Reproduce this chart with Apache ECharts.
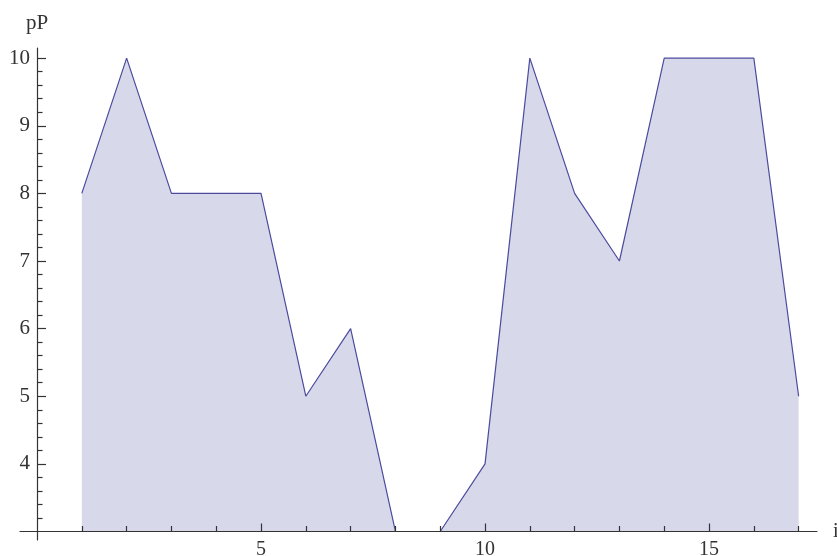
<!DOCTYPE html>
<html>
<head>
<meta charset="utf-8">
<script src="https://cdn.jsdelivr.net/npm/echarts@6/dist/echarts.min.js"></script>
<style>
html,body{margin:0;padding:0;background:#fff;}
#chart{width:837px;height:556px;}
</style>
</head>
<body>
<div id="chart"></div>
<script>
// Data
const iValues = [1, 2, 3, 4, 5, 6, 7, 8, 9, 10, 11, 12, 13, 14, 15, 16, 17];
const pPValues = [8, 10, 8, 8, 8, 5, 6, 3, 3, 4, 10, 8, 7, 10, 10, 10, 5];

// Tick labels
const xMajorTicks = [5, 10, 15];
const xMinorTicks = [1, 2, 3, 4, 6, 7, 8, 9, 11, 12, 13, 14, 16, 17];
const yMajorTicks = [4, 5, 6, 7, 8, 9, 10];
const yMinorTicks = [3.2, 3.4, 3.6, 3.8, 4.2, 4.4, 4.6, 4.8, 5.2, 5.4, 5.6, 5.8,
  6.2, 6.4, 6.6, 6.8, 7.2, 7.4, 7.6, 7.8, 8.2, 8.4, 8.6, 8.8, 9.2, 9.4, 9.6, 9.8];

const axisColor = '#333';
const labelFont = 'Liberation Serif';
const xMin = -0.38, xMax = 17.41, yMin = 2.874, yMax = 10.15, yBase = 3;

const chart = echarts.init(document.getElementById('chart'), null, {renderer: 'canvas'});

const seriesData = iValues.map((x, k) => [x, pPValues[k]]);

const baseX = {
  type: 'value', min: xMin, max: xMax, position: 'bottom', offset: -8.5,
  splitLine: {show: false}, z: 5
};
const baseY = {
  type: 'value', min: yMin, max: yMax, position: 'left',
  splitLine: {show: false}, z: 5
};

chart.setOption({
  animation: false,
  backgroundColor: '#fff',
  grid: {left: 20, right: 20, top: 48, bottom: 16, containLabel: false, outerBoundsMode: 'none'},
  xAxis: [
    Object.assign({}, baseX, {
      name: 'i',
      nameLocation: 'end',
      nameGap: 16,
      nameTextStyle: {fontFamily: labelFont, fontSize: 20, color: axisColor},
      axisLine: {show: true, onZero: false, lineStyle: {color: axisColor, width: 1.2}},
      axisTick: {show: true, inside: true, length: 8, customValues: xMajorTicks, lineStyle: {color: axisColor, width: 1.2}},
      axisLabel: {show: true, customValues: xMajorTicks, margin: 8, fontFamily: labelFont, fontSize: 20, color: axisColor}
    }),
    Object.assign({}, baseX, {
      axisLine: {show: false, onZero: false},
      axisTick: {show: true, inside: true, length: 5.5, customValues: xMinorTicks, lineStyle: {color: axisColor, width: 1.2}},
      axisLabel: {show: false}
    })
  ],
  yAxis: [
    Object.assign({}, baseY, {
      name: 'pP',
      nameLocation: 'end',
      nameGap: 14,
      nameTextStyle: {fontFamily: labelFont, fontSize: 21, color: axisColor, align: 'center'},
      axisLine: {show: true, onZero: true, lineStyle: {color: axisColor, width: 1.2}},
      axisTick: {show: true, inside: true, length: 9, customValues: yMajorTicks, lineStyle: {color: axisColor, width: 1.2}},
      axisLabel: {show: true, customValues: yMajorTicks, margin: -10, fontFamily: labelFont, fontSize: 21, color: axisColor}
    }),
    Object.assign({}, baseY, {
      axisLine: {show: false, onZero: true},
      axisTick: {show: true, inside: true, length: 5.5, customValues: yMinorTicks, lineStyle: {color: axisColor, width: 1.2}},
      axisLabel: {show: false}
    })
  ],
  series: [{
    type: 'line',
    xAxisIndex: 0,
    yAxisIndex: 0,
    data: seriesData,
    showSymbol: false,
    symbol: 'none',
    z: 2,
    lineStyle: {color: '#4b4b9e', width: 1.2},
    areaStyle: {color: '#d8d8eb', opacity: 1, origin: yBase}
  }]
});
</script>
</body>
</html>
